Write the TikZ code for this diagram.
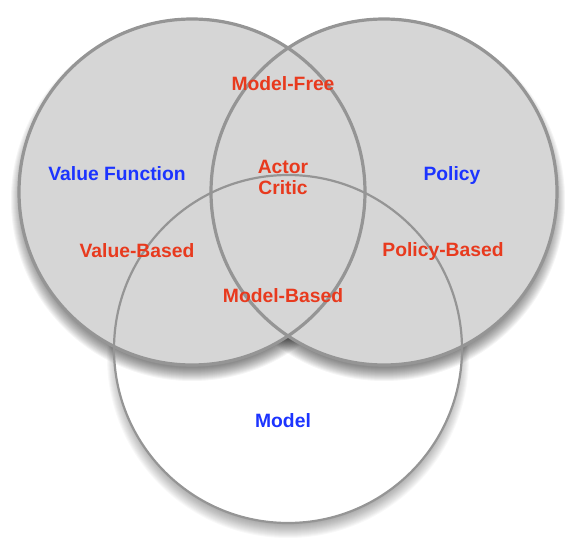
\documentclass[tikz,border=0pt]{standalone}
\usepackage{fontspec}
\setmainfont{Liberation Sans}

\definecolor{rimgray}{HTML}{959595}
\definecolor{setgray}{HTML}{D6D6D6}
\definecolor{labred}{RGB}{232,58,30}
\definecolor{labblue}{RGB}{28,52,255}

\tikzset{
  setlabel/.style={font=\bfseries\fontsize{19.3}{21}\selectfont, inner sep=0pt, align=center},
  approach/.style={setlabel, text=labred},
  component/.style={setlabel, text=labblue},
  rim/.style={draw=rimgray, line width=3.2pt},
}

\begin{document}
\begin{tikzpicture}[x=1pt, y=-1pt]

\useasboundingbox (0,0) rectangle (576,551);

% Schatten

    \foreach \k in {1,...,14}
        \fill[black, opacity=0.028] (288,357) circle ({182-\k});
    \fill[white] (288,349) circle (174);

    \foreach \k in {1,...,14} {
        \fill[black, opacity=0.04] (192,200) circle ({182-\k});
        \fill[black, opacity=0.04] (384,200) circle ({182-\k});
    }

% Kreise

    \fill[setgray] (192,192) circle (173);
    \fill[setgray] (384,192) circle (173);
    \draw[rim] (192,192) circle (173);
    \draw[rim] (384,192) circle (173);
    \draw[rimgray, line width=2.2pt] (288,349) circle (174);

% Beschriftung

    \node[component] (valuefn) at (117,174) {Value Function};
    \node[component] (policy)  at (452,176) {Policy};
    \node[component] (model)   at (283,421) {Model};

    \node[approach] (modelfree)   at (283,84)  {Model-Free};
    \node[approach] (actorcritic) at (283,177) {Actor\\Critic};
    \node[approach] (valuebased)  at (137,251) {Value-Based};
    \node[approach] (policybased) at (443,252) {Policy-Based};
    \node[approach] (modelbased)  at (283,296) {Model-Based};

\end{tikzpicture}
\end{document}
